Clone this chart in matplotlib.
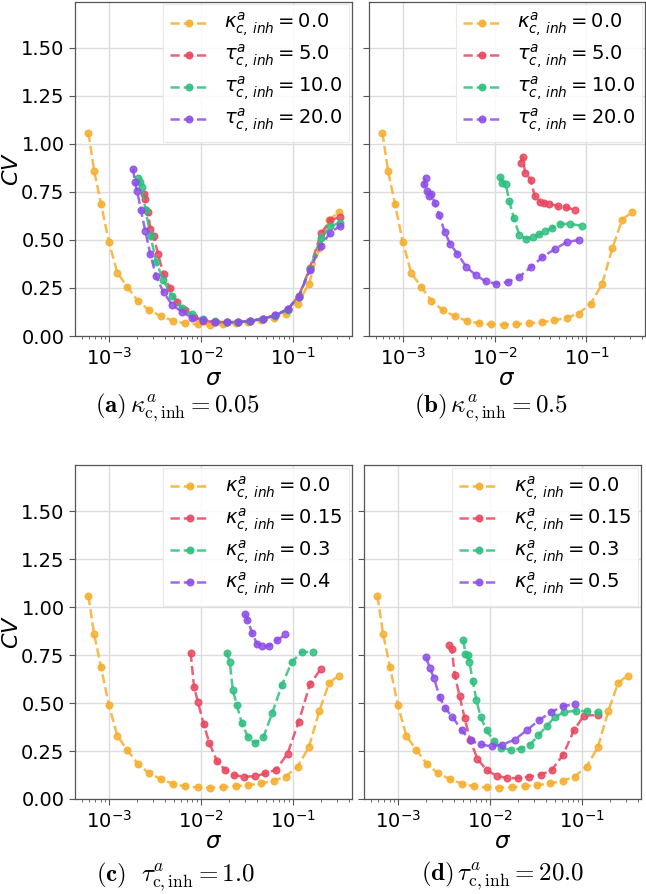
import matplotlib
matplotlib.use("Agg")
import matplotlib.pyplot as plt
import numpy as np

# ---------------- data ----------------
# baseline kappa=0 (same in all panels)
sig_base = [5.91e-4, 6.81e-4, 8.11e-4, 9.84e-4, 1.22e-3, 1.57e-3, 2.03e-3, 2.70e-3, 3.65e-3,
            4.92e-3, 6.64e-3, 9.12e-3, 1.25e-2, 1.72e-2, 2.36e-2, 3.24e-2, 4.45e-2, 6.11e-2,
            8.26e-2, 0.1114, 0.148, 0.192, 0.246, 0.313]
cv_base = [1.057, 0.859, 0.686, 0.491, 0.328, 0.255, 0.183, 0.134, 0.103, 0.079, 0.066, 0.060,
           0.059, 0.062, 0.067, 0.072, 0.081, 0.095, 0.117, 0.169, 0.269, 0.457, 0.605, 0.643]

# panel (a): kappa=0.05, varying tau
sig_a_t5 = [2.36e-3, 2.45e-3, 2.62e-3, 2.79e-3, 3.03e-3, 3.38e-3, 3.89e-3, 4.53e-3, 5.40e-3,
            6.65e-3, 8.34e-3, 1.05e-2, 1.4e-2, 1.9e-2, 2.51e-2, 3.39e-2, 4.70e-2, 6.36e-2,
            8.69e-2, 0.115, 0.152, 0.201, 0.254, 0.321]
cv_a_t5 = [0.741, 0.711, 0.647, 0.558, 0.520, 0.425, 0.321, 0.248, 0.179, 0.134, 0.099, 0.080,
           0.072, 0.072, 0.073, 0.078, 0.090, 0.109, 0.140, 0.208, 0.355, 0.534, 0.602, 0.619]
sig_a_t10 = [2.05e-3, 2.15e-3, 2.25e-3, 2.47e-3, 2.80e-3, 3.23e-3, 3.85e-3, 4.79e-3, 6.15e-3,
             7.9e-3, 1.04e-2, 1.4e-2, 1.9e-2, 2.5e-2, 3.4e-2, 4.7e-2, 6.4e-2, 8.7e-2, 0.115,
             0.152, 0.201, 0.254, 0.321]
cv_a_t10 = [0.82, 0.80, 0.775, 0.655, 0.52, 0.385, 0.29, 0.208, 0.144, 0.112, 0.087, 0.076,
            0.072, 0.072, 0.078, 0.09, 0.106, 0.137, 0.205, 0.35, 0.51, 0.57, 0.59]
sig_a_t20 = [1.81e-3, 1.89e-3, 2.00e-3, 2.20e-3, 2.45e-3, 2.78e-3, 3.20e-3, 3.88e-3, 4.83e-3,
             6.16e-3, 7.91e-3, 1.04e-2, 1.4e-2, 1.9e-2, 2.5e-2, 3.4e-2, 4.7e-2, 6.4e-2, 8.7e-2,
             0.115, 0.152, 0.201, 0.254, 0.321]
cv_a_t20 = [0.870, 0.801, 0.754, 0.657, 0.547, 0.429, 0.313, 0.227, 0.161, 0.126, 0.095, 0.083,
            0.075, 0.072, 0.072, 0.078, 0.09, 0.107, 0.14, 0.205, 0.345, 0.47, 0.538, 0.572]

# panel (b): kappa=0.5, varying tau
sig_b_t5 = [1.92e-2, 2.01e-2, 2.14e-2, 2.46e-2, 2.72e-2, 3.11e-2, 3.47e-2, 3.93e-2, 4.84e-2,
            5.96e-2, 7.46e-2]
cv_b_t5 = [0.902, 0.931, 0.850, 0.814, 0.729, 0.698, 0.691, 0.688, 0.676, 0.669, 0.657]
sig_b_t10 = [1.14e-2, 1.21e-2, 1.31e-2, 1.44e-2, 1.61e-2, 1.85e-2, 2.17e-2, 2.61e-2, 3.06e-2,
             3.53e-2, 4.17e-2, 5.13e-2, 6.70e-2, 9.05e-2]
cv_b_t10 = [0.829, 0.798, 0.793, 0.700, 0.614, 0.526, 0.507, 0.516, 0.529, 0.545, 0.560, 0.583,
            0.583, 0.572]
sig_b_t20 = [1.75e-3, 1.69e-3, 1.81e-3, 1.92e-3, 2.03e-3, 2.21e-3, 2.46e-3, 2.84e-3, 3.27e-3,
             3.90e-3, 4.88e-3, 6.21e-3, 7.92e-3, 1.03e-2, 1.38e-2, 1.84e-2, 2.48e-2, 3.30e-2,
             4.53e-2, 6.11e-2, 8.26e-2]
cv_b_t20 = [0.821, 0.793, 0.752, 0.729, 0.738, 0.690, 0.631, 0.540, 0.476, 0.428, 0.359, 0.316,
            0.284, 0.272, 0.281, 0.307, 0.359, 0.410, 0.453, 0.488, 0.500]

# panel (c): tau=1.0, varying kappa
sig_c_k015 = [7.65e-3, 8.32e-3, 9.20e-3, 1.06e-2, 1.22e-2, 1.48e-2, 1.83e-2, 2.27e-2, 2.92e-2,
              3.82e-2, 4.99e-2, 6.53e-2, 8.67e-2, 0.115, 0.152, 0.199]
cv_c_k015 = [0.762, 0.586, 0.503, 0.391, 0.293, 0.197, 0.150, 0.124, 0.116, 0.119, 0.133, 0.153,
             0.236, 0.403, 0.598, 0.676]
sig_c_k03 = [1.89e-2, 2.04e-2, 2.20e-2, 2.43e-2, 2.75e-2, 3.23e-2, 3.85e-2, 4.74e-2, 5.90e-2,
             7.52e-2, 9.67e-2, 0.124, 0.163]
cv_c_k03 = [0.762, 0.714, 0.569, 0.491, 0.397, 0.321, 0.291, 0.322, 0.447, 0.593, 0.714, 0.766,
            0.766]
sig_c_k04 = [2.99e-2, 3.17e-2, 3.57e-2, 4.02e-2, 4.63e-2, 5.52e-2, 6.64e-2, 8.24e-2]
cv_c_k04 = [0.966, 0.934, 0.866, 0.809, 0.797, 0.797, 0.826, 0.857]

# panel (d): tau=20.0, varying kappa
sig_d_k015 = [3.56e-3, 3.80e-3, 4.10e-3, 4.64e-3, 5.26e-3, 6.01e-3, 7.22e-3, 9.13e-3, 1.17e-2,
              1.53e-2, 2.00e-2, 2.63e-2, 3.52e-2, 4.64e-2, 6.21e-2, 8.11e-2, 0.104, 0.149]
cv_d_k015 = [0.800, 0.784, 0.645, 0.534, 0.421, 0.309, 0.210, 0.150, 0.121, 0.109, 0.109, 0.116,
             0.126, 0.150, 0.231, 0.357, 0.434, 0.438]
sig_d_k03 = [5.09e-3, 5.35e-3, 5.67e-3, 5.91e-3, 6.43e-3, 7.05e-3, 7.85e-3, 9.13e-3, 1.10e-2,
             1.32e-2, 1.66e-2, 2.14e-2, 2.70e-2, 3.33e-2, 4.09e-2, 5.00e-2, 6.32e-2, 8.47e-2,
             0.113, 0.149]
cv_d_k03 = [0.828, 0.757, 0.750, 0.716, 0.616, 0.516, 0.426, 0.357, 0.300, 0.266, 0.257, 0.262,
            0.283, 0.331, 0.379, 0.426, 0.452, 0.460, 0.457, 0.452]
sig_d_k05 = [1.98e-3, 2.21e-3, 2.44e-3, 2.81e-3, 3.21e-3, 3.86e-3, 4.88e-3, 6.11e-3, 7.85e-3,
             1.03e-2, 1.35e-2, 1.84e-2, 2.48e-2, 3.35e-2, 4.56e-2, 6.17e-2, 8.26e-2]
cv_d_k05 = [0.740, 0.681, 0.628, 0.531, 0.474, 0.429, 0.357, 0.305, 0.284, 0.274, 0.283, 0.309,
            0.357, 0.409, 0.452, 0.483, 0.495]

labels_tau = [r"$\kappa^{a}_{c,\,inh} = 0.0$", r"$\tau^{a}_{c,\,inh} = 5.0$",
              r"$\tau^{a}_{c,\,inh} = 10.0$", r"$\tau^{a}_{c,\,inh} = 20.0$"]
labels_c = [r"$\kappa^{a}_{c,\,inh} = 0.0$", r"$\kappa^{a}_{c,\,inh} = 0.15$",
            r"$\kappa^{a}_{c,\,inh} = 0.3$", r"$\kappa^{a}_{c,\,inh} = 0.4$"]
labels_d = [r"$\kappa^{a}_{c,\,inh} = 0.0$", r"$\kappa^{a}_{c,\,inh} = 0.15$",
            r"$\kappa^{a}_{c,\,inh} = 0.3$", r"$\kappa^{a}_{c,\,inh} = 0.5$"]
captions = [r"$\mathbf{(a)}\,\kappa^{a}_{\mathrm{c,inh}} = 0.05$",
            r"$\mathbf{(b)}\,\kappa^{a}_{\mathrm{c,inh}} = 0.5$",
            r"$\mathbf{(c)}\ \ \tau^{a}_{\mathrm{c,inh}} = 1.0$",
            r"$\mathbf{(d)}\,\tau^{a}_{\mathrm{c,inh}} = 20.0$"]

colors = ["#f6ae2d", "#e8475f", "#2fbf7f", "#8d4ee8"]

panels = [
    [(sig_base, cv_base), (sig_a_t5, cv_a_t5), (sig_a_t10, cv_a_t10), (sig_a_t20, cv_a_t20)],
    [(sig_base, cv_base), (sig_b_t5, cv_b_t5), (sig_b_t10, cv_b_t10), (sig_b_t20, cv_b_t20)],
    [(sig_base, cv_base), (sig_c_k015, cv_c_k015), (sig_c_k03, cv_c_k03), (sig_c_k04, cv_c_k04)],
    [(sig_base, cv_base), (sig_d_k015, cv_d_k015), (sig_d_k03, cv_d_k03), (sig_d_k05, cv_d_k05)],
]
panel_labels = [labels_tau, labels_tau, labels_c, labels_d]

# ---------------- layout ----------------
W, H = 646, 894
fig = plt.figure(figsize=(W / 100, H / 100), dpi=100)

# pixel boxes: left, top, right, bottom
boxes = [(75, 1.5, 352, 336), (369, 1.5, 645, 336), (75, 465, 352, 799), (364, 465, 641, 799)]
cap_pos = [(177, 408), (491, 408), (175, 877), (503, 876)]

for i, (box, series, labs) in enumerate(zip(boxes, panels, panel_labels)):
    l, t, r, b = box
    ax = fig.add_axes([l / W, 1 - b / H, (r - l) / W, (b - t) / H])
    for (x, y), c, lab in zip(series, colors, labs):
        ax.plot(x, y, linestyle="--", marker="o", color=c, lw=1.8, ms=4.8, alpha=0.85,
                label=lab)
    ax.set_xscale("log")
    ax.set_xlim(10 ** -3.375, 10 ** -0.36)
    ax.set_ylim(0, 1.74)
    ax.set_yticks([0, 0.25, 0.5, 0.75, 1.0, 1.25, 1.5])
    ax.grid(True, which="major", color="#dddddd", lw=1.0)
    ax.set_axisbelow(True)
    for s in ax.spines.values():
        s.set_color("#555555")
        s.set_linewidth(0.9)
    ax.tick_params(which="both", colors="#555555", labelcolor="black", labelsize=14)
    ax.tick_params(which="major", length=4)
    ax.tick_params(which="minor", length=2.5)
    ax.set_xlabel(r"$\sigma$", fontsize=16.5, labelpad=-1)
    if i in (0, 2):
        ax.set_ylabel(r"$CV$", fontsize=16, labelpad=-1)
        ax.set_yticklabels(["0.00", "0.25", "0.50", "0.75", "1.00", "1.25", "1.50"])
    else:
        ax.set_yticklabels([])
    leg = ax.legend(loc="upper right", fontsize=14, borderaxespad=0.15, framealpha=0.85,
                    edgecolor="#e6e6e6", fancybox=False, handlelength=2.0, labelspacing=0.2,
                    borderpad=0.35)
    leg.get_frame().set_linewidth(0.8)
    cx, cy = cap_pos[i]
    fig.text(cx / W, 1 - cy / H, captions[i], ha="center", va="center", fontsize=18,
             math_fontfamily="cm")

fig.savefig("out.png", dpi=100)
